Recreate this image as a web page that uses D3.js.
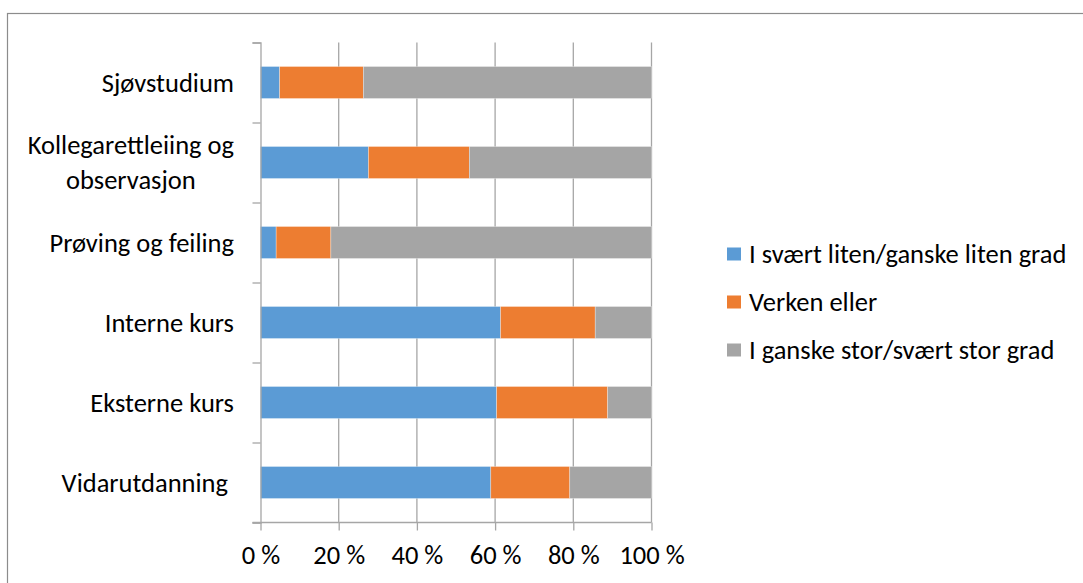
<!DOCTYPE html>
<html>
<head>
<meta charset="utf-8">
<script src="https://cdn.jsdelivr.net/npm/d3@7"></script>
<style>
  html, body { margin: 0; padding: 0; background: #fff; }
  svg { display: block; }
  text { font-family: Carlito, Lato, "Open Sans", sans-serif; fill: #000; }
</style>
</head>
<body>
<svg id="chart" width="1083" height="583"></svg>
<script>
// Categories, top to bottom
const categories = [
  "Sjøvstudium",
  "Kollegarettleiing og observasjon",
  "Prøving og feiling",
  "Interne kurs",
  "Eksterne kurs",
  "Vidarutdanning"
];
// Label lines for each category
const categoryLines = [
  ["Sjøvstudium"],
  ["Kollegarettleiing og", "observasjon"],
  ["Prøving og feiling"],
  ["Interne kurs"],
  ["Eksterne kurs"],
  ["Vidarutdanning\u00a0"]
];
// Share of answers (%) per category
const seriesNames = [
  "I svært liten/ganske liten grad",
  "Verken eller",
  "I ganske stor/svært stor grad"
];
const litenGrad = [4.9, 27.6, 4.0, 61.4, 60.4, 58.9];
const verkenEller = [21.4, 25.8, 14.0, 24.2, 28.4, 20.2];
const storGrad = [73.7, 46.6, 82.0, 14.4, 11.2, 20.9];
const seriesColors = ["#5b9bd5", "#ed7d31", "#a5a5a5"];
const xTicks = [0, 20, 40, 60, 80, 100];

const fontSize = "26.5px";
const svg = d3.select("#chart");

// Outer chart frame
svg.append("rect")
  .attr("x", 7.5).attr("y", 13.5)
  .attr("width", 1200).attr("height", 700)
  .attr("fill", "none").attr("stroke", "#8c8c8c").attr("stroke-width", 1.2);

const plot = { left: 260.5, right: 651.5, top: 42.5, bottom: 522.5 };

const x = d3.scaleLinear().domain([0, 100]).range([plot.left, plot.right]);
const y = d3.scaleBand().domain(categories)
  .range([plot.top, plot.bottom]).paddingInner(0.6).paddingOuter(0.3);
const yEdges = d3.scaleLinear().domain([0, categories.length]).range([plot.top, plot.bottom]);

const gridColor = "#a6a6a6";

// Vertical gridlines
svg.append("g").selectAll("line").data(xTicks.slice(1)).join("line")
  .attr("x1", d => x(d)).attr("x2", d => x(d))
  .attr("y1", plot.top).attr("y2", plot.bottom)
  .attr("stroke", gridColor).attr("stroke-width", 1.3);

// Stacked bars
const rows = categories.map((c, i) => ({
  cat: c, vals: [litenGrad[i], verkenEller[i], storGrad[i]]
}));
const stackData = rows.map(r => {
  const o = { cat: r.cat };
  seriesNames.forEach((s, j) => o[s] = r.vals[j]);
  return o;
});
const stacked = d3.stack().keys(seriesNames)(stackData);

svg.append("g").selectAll("g").data(stacked).join("g")
  .attr("fill", (d, i) => seriesColors[i])
  .selectAll("rect").data(d => d).join("rect")
  .attr("x", d => x(d[0]))
  .attr("width", d => x(d[1]) - x(d[0]))
  .attr("y", d => y(d.data.cat))
  .attr("height", y.bandwidth())
  .attr("stroke", "#ffffff").attr("stroke-opacity", 0.5).attr("stroke-width", 0.6);

// Left axis: ticks at category boundaries
const yAxis = svg.append("g")
  .attr("transform", `translate(${plot.left},0)`)
  .call(d3.axisLeft(yEdges).tickValues(d3.range(categories.length + 1))
    .tickSize(8).tickFormat(""));
yAxis.select(".domain").attr("stroke", gridColor).attr("stroke-width", 1.3);
yAxis.selectAll(".tick line").attr("stroke", gridColor).attr("stroke-width", 1.3);

// Bottom axis
const xAxis = svg.append("g")
  .attr("transform", `translate(0,${plot.bottom})`)
  .call(d3.axisBottom(x).tickValues(xTicks).tickSize(8).tickSizeOuter(0)
    .tickFormat(d => d + " %"));
xAxis.select(".domain").attr("stroke", gridColor).attr("stroke-width", 1.3)
  .attr("d", `M${plot.left - 8},0H${plot.right}`);
xAxis.selectAll(".tick line").attr("stroke", gridColor).attr("stroke-width", 1.3);
xAxis.selectAll(".tick text")
  .attr("y", 41).attr("dy", 0)
  .style("font-size", fontSize).style("font-family", "Carlito, Lato, sans-serif")
  .attr("fill", "#000");

// Category labels
const labelRight = 234;
const lineGap = 35;
categoryLines.forEach((lines, i) => {
  const cy = y(categories[i]) + y.bandwidth() / 2;
  if (lines.length === 1) {
    svg.append("text")
      .attr("x", labelRight).attr("y", cy).attr("dy", "0.35em")
      .attr("text-anchor", "end").style("font-size", fontSize)
      .text(lines[0]);
  } else {
    const g = svg.append("g");
    const texts = lines.map((ln, k) => g.append("text")
      .attr("y", cy + (k - (lines.length - 1) / 2) * lineGap).attr("dy", "0.35em")
      .attr("text-anchor", "middle").style("font-size", fontSize)
      .text(ln));
    const w = d3.max(texts, t => t.node().getComputedTextLength());
    texts.forEach(t => t.attr("x", labelRight - w / 2));
  }
});

// Legend
const legend = svg.append("g").attr("transform", "translate(727,254)");
seriesNames.forEach((s, i) => {
  const g = legend.append("g").attr("transform", `translate(0,${i * 48})`);
  g.append("rect").attr("x", 0).attr("y", -6.5).attr("width", 14).attr("height", 13)
    .attr("fill", seriesColors[i]);
  g.append("text").attr("x", 22).attr("y", 0).attr("dy", "0.35em")
    .style("font-size", fontSize).text(s);
});
</script>
</body>
</html>
